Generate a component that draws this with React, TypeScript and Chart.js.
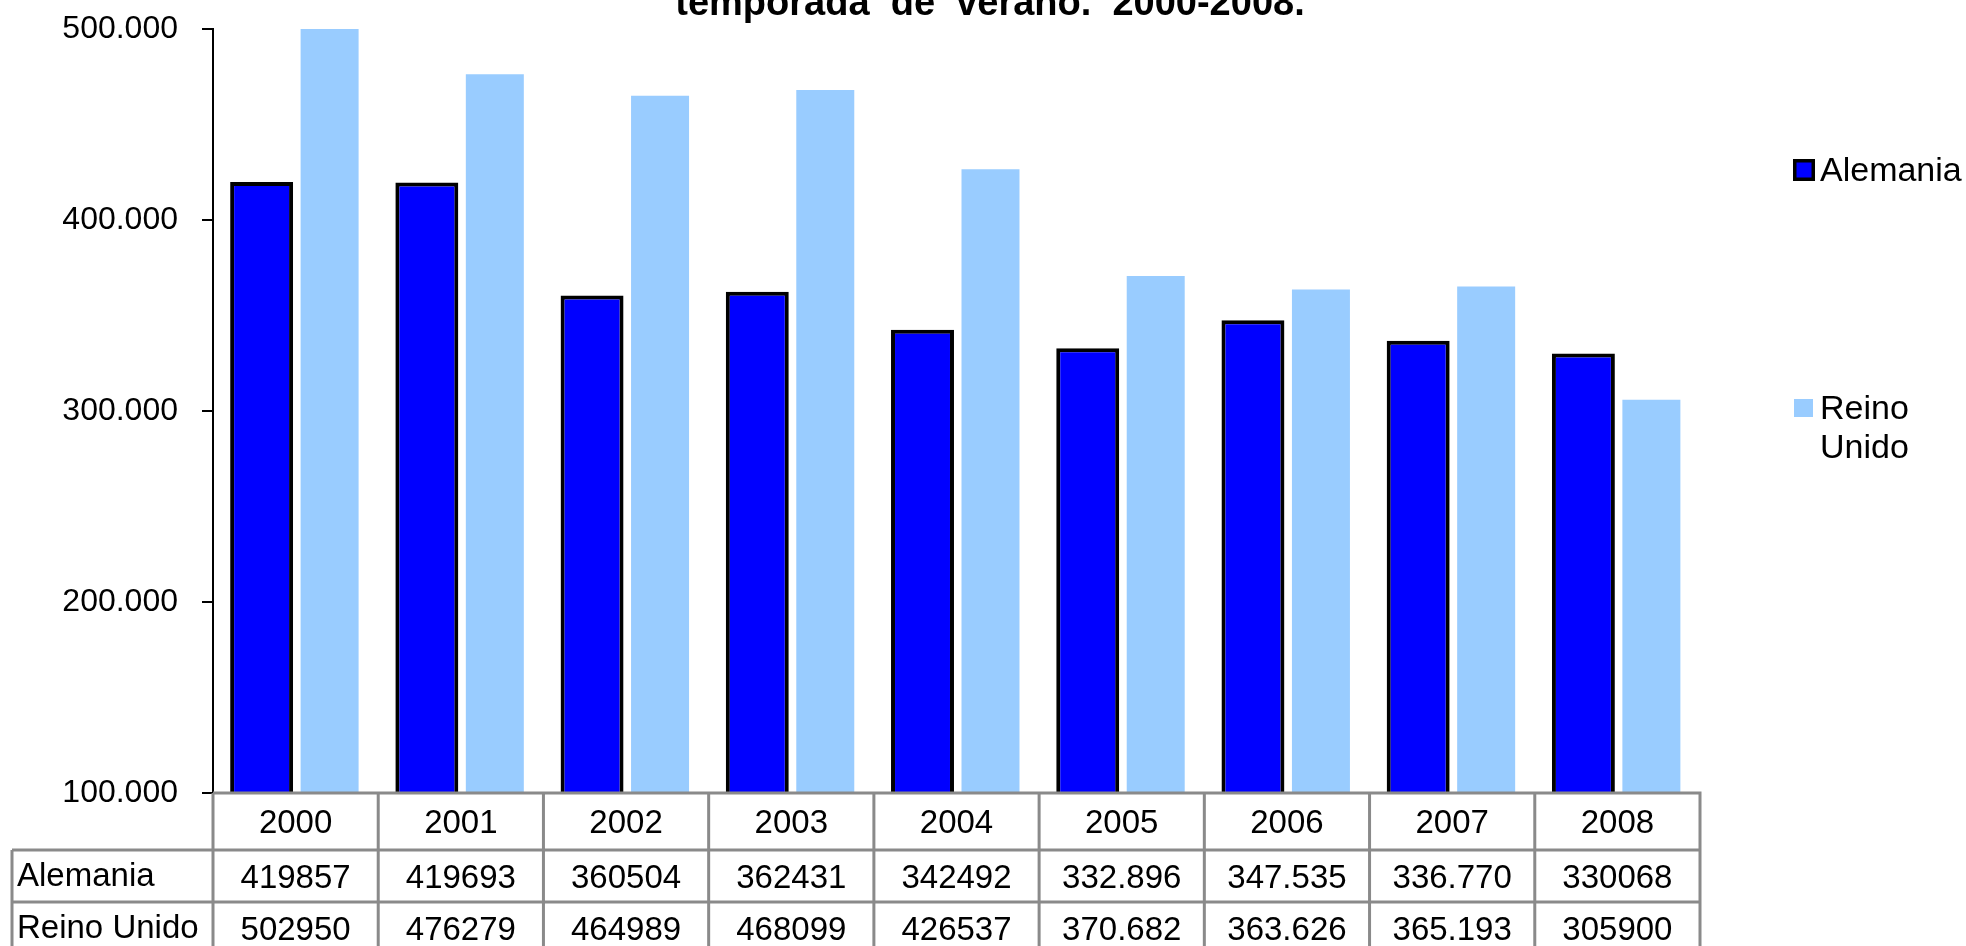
import React, { useEffect, useRef } from 'react';
import { Chart, registerables } from 'chart.js';

Chart.register(...registerables);

// ---- Data ----
const years = ['2000', '2001', '2002', '2003', '2004', '2005', '2006', '2007', '2008'];
const alemania = [419857, 419693, 360504, 362431, 342492, 332896, 347535, 336770, 330068];
const reinoUnido = [502950, 476279, 464989, 468099, 426537, 370682, 363626, 365193, 305900];
// Values as printed in the data table under the chart
const alemaniaTabla = ['419857', '419693', '360504', '362431', '342492', '332.896', '347.535', '336.770', '330068'];
const reinoUnidoTabla = ['502950', '476279', '464989', '468099', '426537', '370.682', '363.626', '365.193', '305900'];
const yTicks = [100000, 200000, 300000, 400000, 500000];
const seriesNames = ['Alemania', 'Reino Unido'];
const titleLine = 'temporada  de  verano.  2000-2008.';

const FONT = "'Liberation Sans', Arial, Helvetica, sans-serif";
const COLORS = ['#0000FF', '#99CCFF'];

const fmtTick = (v: number) => `${Math.round(v / 1000)}.000`;

const overlayPlugin = {
  id: 'overlay',
  afterDraw(chart: any) {
    const ctx = chart.ctx as CanvasRenderingContext2D;
    const area = chart.chartArea;
    const xs = chart.scales.x;
    ctx.save();

    // ---- Title (only lower line visible) ----
    ctx.fillStyle = '#000';
    ctx.font = `bold 38px ${FONT}`;
    ctx.textAlign = 'center';
    ctx.textBaseline = 'alphabetic';
    ctx.fillText(titleLine, 990, 15);

    // ---- Legend ----
    const legX = 1820;
    const legendRows = [170, 408];
    ctx.font = `34px ${FONT}`;
    ctx.textAlign = 'left';
    chart.data.datasets.forEach((ds: any, i: number) => {
      const cy = legendRows[i];
      if (ds.borderWidth) {
        ctx.fillStyle = ds.backgroundColor;
        ctx.fillRect(1793, cy - 11, 22, 22);
        ctx.lineWidth = 3.5;
        ctx.strokeStyle = ds.borderColor;
        ctx.strokeRect(1794.75, cy - 9.25, 18.5, 18.5);
      } else {
        ctx.fillStyle = ds.backgroundColor;
        ctx.fillRect(1794, cy - 9, 19, 18);
      }
      // word wrap
      const words = String(ds.label).split(' ');
      const lines: string[] = [];
      let cur = '';
      const maxW = 1966 - legX - 2;
      words.forEach((w) => {
        const t = cur ? cur + ' ' + w : w;
        if (cur && ctx.measureText(t).width > maxW) {
          lines.push(cur);
          cur = w;
        } else cur = t;
      });
      if (cur) lines.push(cur);
      ctx.fillStyle = '#000';
      lines.forEach((ln, k) => ctx.fillText(ln, legX, cy + 11 + k * 39));
    });

    // ---- Data table ----
    const n = years.length;
    const bounds: number[] = [area.left];
    for (let i = 0; i < n - 1; i++) {
      bounds.push((xs.getPixelForValue(i) + xs.getPixelForValue(i + 1)) / 2);
    }
    bounds.push(area.right);
    const top = area.bottom;
    const rowTops = [top, top + 57, top + 109, top + 161];
    const labelLeft = 12;
    const canvasBottom = chart.height;

    ctx.strokeStyle = '#8a8a8a';
    ctx.lineWidth = 3;
    ctx.beginPath();
    // horizontal lines
    ctx.moveTo(area.left, rowTops[0]);
    ctx.lineTo(area.right + 1.5, rowTops[0]);
    ctx.moveTo(labelLeft, rowTops[1]);
    ctx.lineTo(area.right + 1.5, rowTops[1]);
    ctx.moveTo(labelLeft, rowTops[2]);
    ctx.lineTo(area.right + 1.5, rowTops[2]);
    // vertical lines
    ctx.moveTo(labelLeft, rowTops[1]);
    ctx.lineTo(labelLeft, canvasBottom);
    bounds.forEach((b) => {
      ctx.moveTo(b, rowTops[0]);
      ctx.lineTo(b, canvasBottom);
    });
    ctx.stroke();

    ctx.fillStyle = '#000';
    ctx.font = `33px ${FONT}`;
    ctx.textAlign = 'center';
    ctx.textBaseline = 'alphabetic';
    const rows = [years, alemaniaTabla, reinoUnidoTabla];
    rows.forEach((row, r) => {
      const rt = rowTops[r];
      const rh = rowTops[r + 1] - rt;
      const base = rt + rh / 2 + 11.5;
      row.forEach((txt, i) => {
        ctx.fillText(txt, (bounds[i] + bounds[i + 1]) / 2, base);
      });
    });
    ctx.textAlign = 'left';
    seriesNames.forEach((name, r) => {
      const rt = rowTops[r + 1];
      const rh = rowTops[r + 2] - rt;
      ctx.fillText(name, labelLeft + 5, rt + rh / 2 + 10);
    });

    ctx.restore();
  },
};

export default function App() {
  const ref = useRef<HTMLCanvasElement | null>(null);

  useEffect(() => {
    if (!ref.current) return;
    const chart = new Chart(ref.current, {
      type: 'bar',
      data: {
        labels: years,
        datasets: [
          {
            label: seriesNames[0],
            data: alemania,
            backgroundColor: COLORS[0],
            borderColor: '#000000',
            borderWidth: 4,
            categoryPercentage: 0.823,
            barPercentage: 0.926,
          },
          {
            label: seriesNames[1],
            data: reinoUnido,
            backgroundColor: COLORS[1],
            borderWidth: 0,
            categoryPercentage: 0.823,
            barPercentage: 0.853,
          },
        ],
      },
      options: {
        responsive: false,
        animation: false,
        devicePixelRatio: 1,
        layout: { padding: { top: 29, left: 0, right: 266, bottom: 153 } },
        plugins: {
          legend: { display: false },
          title: { display: false },
          tooltip: { enabled: false },
        },
        scales: {
          x: { display: false, offset: true },
          y: {
            min: yTicks[0],
            max: yTicks[yTicks.length - 1],
            afterBuildTicks: (s: any) => {
              s.ticks = yTicks.map((v) => ({ value: v }));
            },
            afterFit: (s: any) => {
              s.width = 213;
              s.paddingTop = 0;
              s.paddingBottom = 0;
            },
            ticks: {
              color: '#000',
              padding: 24,
              font: { family: FONT, size: 32 },
              callback: (v: any) => fmtTick(Number(v)),
            },
            grid: {
              drawOnChartArea: false,
              drawTicks: true,
              tickLength: 11,
              color: '#000',
              lineWidth: 2,
            },
            border: { display: true, color: '#000', width: 2 },
          },
        },
      },
      plugins: [overlayPlugin],
    } as any);
    return () => chart.destroy();
  }, []);

  return (
    <div style={{ position: 'absolute', left: 0, top: 0, width: 1966, height: 946, background: '#fff' }}>
      <canvas ref={ref} width={1966} height={946} style={{ display: 'block' }} />
    </div>
  );
}
